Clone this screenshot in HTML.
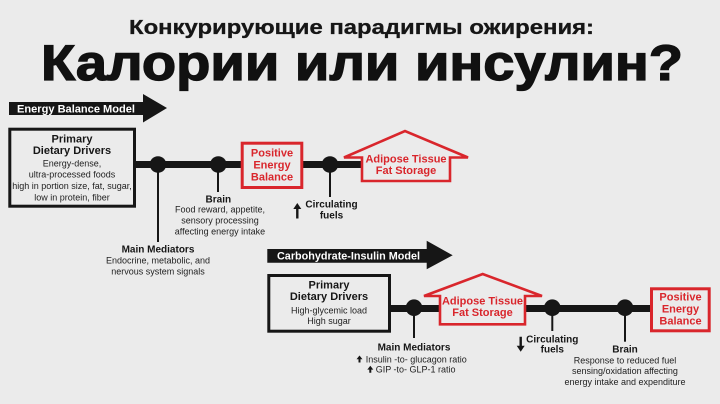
<!DOCTYPE html>
<html>
<head>
<meta charset="utf-8">
<style>
html,body{margin:0;padding:0;background:#ebebeb;}
svg{display:block;}
text{font-family:"Liberation Sans","DejaVu Sans",sans-serif;}
.b{font-weight:bold;fill:#161616;font-size:10px;text-anchor:middle;}
.bb{font-weight:bold;fill:#161616;font-size:11px;text-anchor:middle;}
.n{fill:#222;font-size:9px;text-anchor:middle;}
.r{font-weight:bold;fill:#d9262c;font-size:11px;text-anchor:middle;}
.w{font-weight:bold;fill:#ffffff;font-size:11px;}
</style>
</head>
<body>
<svg width="720" height="404" viewBox="0 0 720 404" xmlns="http://www.w3.org/2000/svg">
<rect x="0" y="0" width="720" height="404" fill="#ebebeb"/>

<!-- Titles -->
<text x="129" y="34" font-size="20" font-weight="bold" fill="#161616" stroke="#161616" stroke-width="0.3" textLength="465" lengthAdjust="spacingAndGlyphs">Конкурирующие парадигмы ожирения:</text>
<text x="41" y="80" font-size="50" font-weight="bold" fill="#111" stroke="#111" stroke-width="1.3" textLength="642" lengthAdjust="spacingAndGlyphs">Калории или инсулин?</text>

<!-- EBM header arrow -->
<polygon points="9,102 143,102 143,94 167,108 143,122.5 143,115 9,115" fill="#161616"/>
<text class="w" x="17" y="112.5" textLength="118" lengthAdjust="spacingAndGlyphs">Energy Balance Model</text>

<!-- Row 1 connectors -->
<rect x="134" y="161" width="108" height="7" fill="#161616"/>
<rect x="302" y="161" width="61" height="7" fill="#161616"/>
<line x1="158" y1="165" x2="158" y2="242" stroke="#161616" stroke-width="2"/>
<line x1="218" y1="165" x2="218" y2="192" stroke="#161616" stroke-width="2"/>
<line x1="330" y1="165" x2="330" y2="197" stroke="#161616" stroke-width="2"/>
<circle cx="158" cy="164.5" r="8.3" fill="#161616"/>
<circle cx="218.3" cy="164.5" r="8.3" fill="#161616"/>
<circle cx="330" cy="164.5" r="8.3" fill="#161616"/>

<!-- Primary box 1 -->
<rect x="9.8" y="129.2" width="124.7" height="77" fill="#ebebeb" stroke="#161616" stroke-width="3"/>
<text class="bb" x="72" y="142.3">Primary</text>
<text class="bb" x="72" y="154">Dietary Drivers</text>
<text class="n" x="72" y="166.3">Energy-dense,</text>
<text class="n" x="72" y="177.7">ultra-processed foods</text>
<text class="n" x="72" y="189">high in portion size, fat, sugar,</text>
<text class="n" x="72" y="200.3">low in protein, fiber</text>

<!-- Positive box 1 -->
<rect x="242.2" y="143.2" width="59.6" height="44.3" fill="#ebebeb" stroke="#d9262c" stroke-width="3"/>
<text class="r" x="272" y="156.5">Positive</text>
<text class="r" x="272" y="168.5">Energy</text>
<text class="r" x="272" y="180.5">Balance</text>

<!-- House 1 -->
<path d="M362,157.5 L344,157.5 L405,131 L468,157.5 L450,157.5 L450,181 L362,181 Z" fill="#ebebeb" stroke="#d9262c" stroke-width="2.6" stroke-linejoin="miter"/>
<text class="r" x="406" y="162.5">Adipose Tissue</text>
<text class="r" x="406" y="174.2">Fat Storage</text>

<!-- Row 1 labels -->
<text class="b" x="158" y="252.3">Main Mediators</text>
<text class="n" x="158" y="263.3">Endocrine, metabolic, and</text>
<text class="n" x="158" y="274.3">nervous system signals</text>

<text class="b" x="218.3" y="202.3">Brain</text>
<text class="n" x="220" y="212.6">Food reward, appetite,</text>
<text class="n" x="220" y="223.5">sensory processing</text>
<text class="n" x="220" y="234.4">affecting energy intake</text>

<text class="b" x="331.5" y="207.7">Circulating</text>
<text class="b" x="331.5" y="218.5">fuels</text>
<polygon points="297.3,203 301.3,209 298.5,209 298.5,218.5 296.1,218.5 296.1,209 293.3,209" fill="#161616"/>

<!-- CIM header arrow -->
<polygon points="267.3,249 426.7,249 426.7,240.7 452.7,255.3 426.7,269.3 426.7,262.7 267.3,262.7" fill="#161616"/>
<text class="w" x="277" y="259.3" textLength="143" lengthAdjust="spacingAndGlyphs">Carbohydrate-Insulin Model</text>

<!-- Row 2 connectors -->
<rect x="389" y="305" width="52" height="7" fill="#161616"/>
<rect x="524" y="305" width="127" height="7" fill="#161616"/>
<line x1="414" y1="308" x2="414" y2="338" stroke="#161616" stroke-width="2"/>
<line x1="552.3" y1="308" x2="552.3" y2="331" stroke="#161616" stroke-width="2"/>
<line x1="625" y1="308" x2="625" y2="341.7" stroke="#161616" stroke-width="2"/>
<circle cx="414" cy="307.7" r="8.3" fill="#161616"/>
<circle cx="552.3" cy="307.7" r="8.3" fill="#161616"/>
<circle cx="625" cy="307.7" r="8.3" fill="#161616"/>

<!-- Primary box 2 -->
<rect x="268.8" y="275.5" width="120.7" height="55.7" fill="#ebebeb" stroke="#161616" stroke-width="3"/>
<text class="bb" x="329" y="288.3">Primary</text>
<text class="bb" x="329" y="300">Dietary Drivers</text>
<text class="n" x="329" y="313.3">High-glycemic load</text>
<text class="n" x="329" y="324">High sugar</text>

<!-- House 2 -->
<path d="M440,296 L424,296 L482.7,274 L542,296 L525,296 L525,324.3 L440,324.3 Z" fill="#ebebeb" stroke="#d9262c" stroke-width="2.6"/>
<text class="r" x="482.5" y="304.6">Adipose Tissue</text>
<text class="r" x="482.5" y="316.2">Fat Storage</text>

<!-- Positive box 2 -->
<rect x="651.5" y="288.8" width="57.7" height="42" fill="#ebebeb" stroke="#d9262c" stroke-width="3"/>
<text class="r" x="680.5" y="300.5">Positive</text>
<text class="r" x="680.5" y="312.5">Energy</text>
<text class="r" x="680.5" y="324.3">Balance</text>

<!-- Row 2 labels -->
<text class="b" x="414" y="350.7">Main Mediators</text>
<polygon points="359.5,355.5 362.5,359.3 360.5,359.3 360.5,362.5 358.5,362.5 358.5,359.3 356.5,359.3" fill="#161616"/>
<text x="365.7" y="362.3" font-size="9" fill="#222">Insulin -to- glucagon ratio</text>
<polygon points="370.3,365.8 373.3,369.6 371.3,369.6 371.3,372.8 369.3,372.8 369.3,369.6 367.3,369.6" fill="#161616"/>
<text x="375.7" y="372.7" font-size="9" fill="#222">GIP -to- GLP-1 ratio</text>

<text class="b" x="552.3" y="342.7">Circulating</text>
<text class="b" x="552.3" y="352.7">fuels</text>
<polygon points="520.7,351.7 516.7,345.7 519.5,345.7 519.5,336.7 521.9,336.7 521.9,345.7 524.7,345.7" fill="#161616"/>

<text class="b" x="625" y="352.3">Brain</text>
<text class="n" x="625" y="363.3">Response to reduced fuel</text>
<text class="n" x="625" y="374">sensing/oxidation affecting</text>
<text class="n" x="625" y="385">energy intake and expenditure</text>
</svg>
</body>
</html>
